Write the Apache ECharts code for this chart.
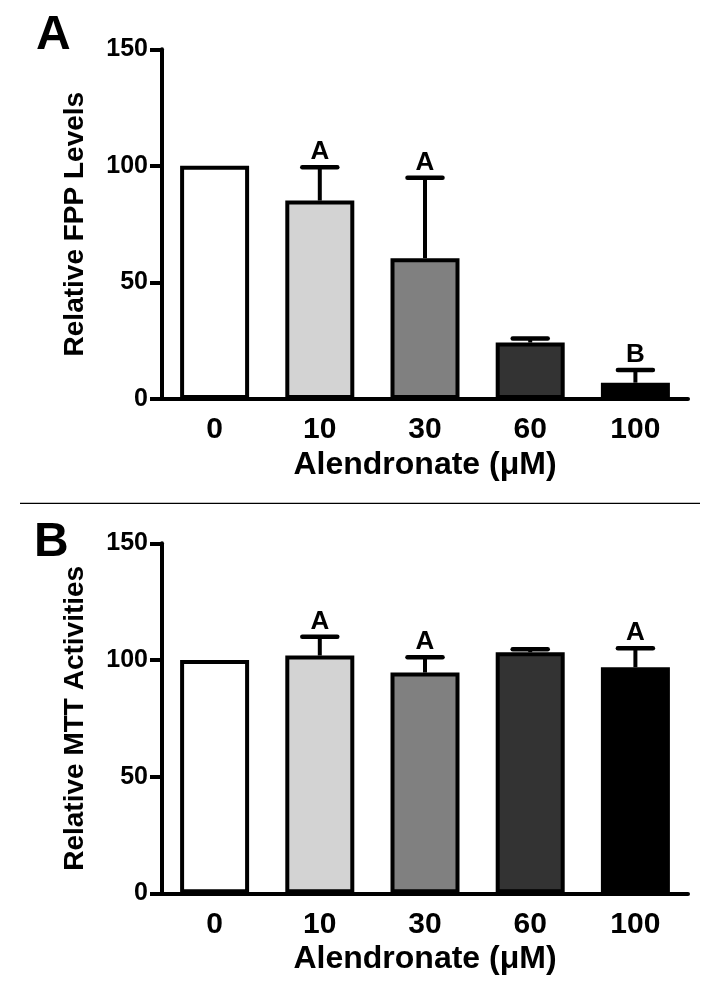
<!DOCTYPE html>
<html>
<head>
<meta charset="utf-8">
<script src="https://cdn.jsdelivr.net/npm/echarts@6/dist/echarts.min.js"></script>
<style>
  html, body { margin: 0; padding: 0; background: #ffffff; }
  #chart { width: 713px; height: 991px; }
</style>
</head>
<body>
<div id="chart"></div>
<script>
// ---- data ----
const categories = ['0', '10', '30', '60', '100'];
const xAxisTitle = 'Alendronate (\u03bcM)';
const yTicks = [0, 50, 100, 150];

// Panel A: relative FPP levels (mean and upper SEM)
const fppMeans = [100, 85.1, 60.4, 24.2, 7.0];
const fppSem = [0, 14.3, 34.5, 1.8, 5.4];
const fppLetters = ['', 'A', 'A', '', 'B'];

// Panel B: relative MTT activities (mean and upper SEM)
const mttMeans = [100, 101.9, 94.6, 103.3, 96.9];
const mttSem = [0, 8.0, 6.6, 1.3, 8.1];
const mttLetters = ['', 'A', 'A', '', 'A'];

// ---- styling ----
const barFills = ['#ffffff', '#d3d3d3', '#808080', '#333333', '#000000'];
const FONT = "'Liberation Sans', Arial, sans-serif";

const chart = echarts.init(document.getElementById('chart'), null, { renderer: 'canvas' });

function xAxisFor(gridIndex) {
  return {
    type: 'category',
    gridIndex: gridIndex,
    data: categories,
    boundaryGap: true,
    name: xAxisTitle,
    nameLocation: 'middle',
    nameGap: 50,
    nameTextStyle: { fontFamily: FONT, fontWeight: 'bold', fontSize: 32, color: '#000' },
    axisLine: { show: true, lineStyle: { color: '#000', width: 4 } },
    axisTick: { show: false },
    axisLabel: { margin: 16, fontFamily: FONT, fontWeight: 'bold', fontSize: 30, color: '#000' },
    splitLine: { show: false }
  };
}

function yAxisFor(gridIndex, title) {
  return {
    type: 'value',
    gridIndex: gridIndex,
    min: yTicks[0],
    max: yTicks[yTicks.length - 1],
    interval: yTicks[1] - yTicks[0],
    name: title,
    nameLocation: 'middle',
    nameRotate: 90,
    nameGap: 73,
    nameTextStyle: { fontFamily: FONT, fontWeight: 'bold', fontSize: 28, color: '#000' },
    axisLine: { show: true, lineStyle: { color: '#000', width: 4 } },
    axisTick: { show: true, inside: false, length: 12, lineStyle: { color: '#000', width: 4 } },
    axisLabel: { margin: 14, fontFamily: FONT, fontWeight: 'bold', fontSize: 25, color: '#000' },
    splitLine: { show: false }
  };
}

function barSeries(idx, means) {
  return {
    type: 'bar',
    xAxisIndex: idx,
    yAxisIndex: idx,
    barWidth: 69,
    data: means.map((v, i) => ({
      value: v,
      itemStyle: { color: barFills[i], borderColor: '#000', borderWidth: 4 }
    })),
    silent: true,
    z: 2
  };
}

function errSeries(idx, means, sems, letters) {
  return {
    type: 'custom',
    xAxisIndex: idx,
    yAxisIndex: idx,
    data: means.map((m, i) => [i, m, m + sems[i]]),
    silent: true,
    z: 3,
    renderItem: function (params, api) {
      const i = api.value(0);
      const base = api.coord([i, api.value(1)]);
      const top = api.coord([i, api.value(2)]);
      const letter = letters[i];
      const children = [];
      if (api.value(2) > api.value(1)) {
        children.push({
          type: 'line',
          shape: { x1: base[0], y1: base[1], x2: top[0], y2: top[1] },
          style: { stroke: '#000', lineWidth: 4 }
        });
        children.push({
          type: 'line',
          shape: { x1: top[0] - 17.5, y1: top[1], x2: top[0] + 17.5, y2: top[1] },
          style: { stroke: '#000', lineWidth: 4.5, lineCap: 'round' }
        });
      }
      if (letter) {
        children.push({
          type: 'text',
          x: top[0],
          y: top[1] - 2,
          style: {
            text: letter, fontFamily: FONT, fontWeight: 'bold', fontSize: 26,
            fill: '#000', align: 'center', verticalAlign: 'bottom'
          }
        });
      }
      return { type: 'group', children: children };
    }
  };
}

const option = {
  backgroundColor: '#ffffff',
  animation: false,
  grid: [
    { left: 162, top: 49.3, width: 526, height: 349.7, containLabel: false },
    { left: 162, top: 543.3, width: 526, height: 350, containLabel: false }
  ],
  xAxis: [xAxisFor(0), xAxisFor(1)],
  yAxis: [yAxisFor(0, 'Relative FPP Levels'), yAxisFor(1, 'Relative MTT Activities')],
  series: [
    barSeries(0, fppMeans),
    errSeries(0, fppMeans, fppSem, fppLetters),
    barSeries(1, mttMeans),
    errSeries(1, mttMeans, mttSem, mttLetters)
  ],
  graphic: [
    {
      type: 'text', left: 36, top: 12,
      style: { text: 'A', fontFamily: FONT, fontWeight: 'bold', fontSize: 48, fill: '#000' }
    },
    {
      type: 'text', left: 34, top: 519,
      style: { text: 'B', fontFamily: FONT, fontWeight: 'bold', fontSize: 48, fill: '#000' }
    },
    {
      type: 'line',
      shape: { x1: 20, y1: 503.3, x2: 700, y2: 503.3 },
      style: { stroke: '#000', lineWidth: 1.3 }
    }
  ]
};

chart.setOption(option);
</script>
</body>
</html>
